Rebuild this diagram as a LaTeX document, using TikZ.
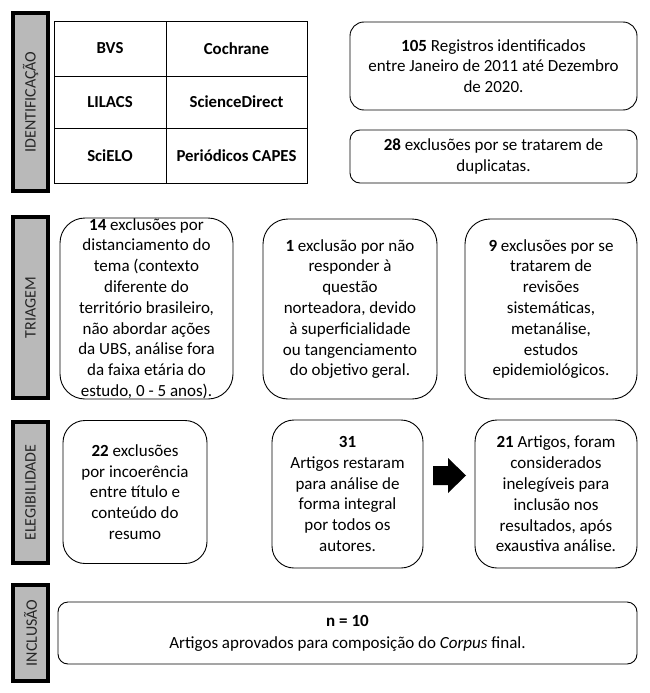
\documentclass[tikz,border=0pt]{standalone}
\usepackage{fontspec}
\setmainfont{Carlito}
\begin{document}
\begin{tikzpicture}[x=1pt,y=-1pt,
  rbox/.style={draw, line width=0.9pt, align=center, inner sep=0pt, font=\fontsize{17}{20.8}\selectfont},
  cell/.style={draw, line width=0.8pt, inner sep=0pt, font=\bfseries\fontsize{16.8}{18}\selectfont},
  bar/.style={draw, line width=4pt, fill=gray!55, rotate=90, inner sep=0pt, text=black!85, font=\fontsize{16}{18}\selectfont}]
\useasboundingbox (0,0) rectangle (649,693);
% side bars
\node[bar, minimum width=178pt, minimum height=35pt] (idbar) at (30.5,102) {IDENTIFICAÇÃO};
\node[bar, minimum width=181pt, minimum height=35pt] (tribar) at (30.5,307.5) {TRIAGEM};
\node[bar, minimum width=141pt, minimum height=35pt] (elebar) at (30.5,492.5) {ELEGIBILIDADE};
\node[bar, minimum width=96pt, minimum height=35pt] (incbar) at (30.5,633) {INCLUSÃO};
% table
\node[cell, minimum width=112pt, minimum height=55pt] (bvs) at (110,48.5) {BVS};
\node[cell, minimum width=141pt, minimum height=55pt] (coch) at (236.5,48.5) {Cochrane};
\node[cell, minimum width=112pt, minimum height=52pt] (lil) at (110,102) {LILACS};
\node[cell, minimum width=141pt, minimum height=52pt] (sd) at (236.5,102) {ScienceDirect};
\node[cell, minimum width=112pt, minimum height=55pt] (sci) at (110,155.5) {SciELO};
\node[cell, minimum width=141pt, minimum height=55pt] (cap) at (236.5,155.5) {Periódicos CAPES};
% identification boxes
\node[rbox, rounded corners=14pt, minimum width=287pt, minimum height=88pt] (reg) at (493.5,66)
  {\textbf{105} Registros identificados\\ entre Janeiro de 2011 até Dezembro\\ de 2020.};
\node[rbox, rounded corners=10pt, minimum width=287pt, minimum height=53pt] (dup) at (493.5,156.5)
  {\textbf{28} exclusões por se tratarem de\\ duplicatas.};
% triagem
\node[rbox, rounded corners=25pt, minimum width=173pt, minimum height=181pt] (t1) at (146.5,308.5)
  {\textbf{14} exclusões por\\ distanciamento do\\ tema (contexto\\ diferente do\\ território brasileiro,\\ não abordar ações\\ da UBS, análise fora\\ da faixa etária do\\ estudo, 0 - 5 anos).};
\node[rbox, rounded corners=25pt, minimum width=174pt, minimum height=180pt] (t2) at (350,309)
  {\textbf{1} exclusão por não\\ responder à\\ questão\\ norteadora, devido\\ à superficialidade\\ ou tangenciamento\\ do objetivo geral.};
\node[rbox, rounded corners=25pt, minimum width=172pt, minimum height=180pt] (t3) at (551,309)
  {\textbf{9} exclusões por se\\ tratarem de\\ revisões\\ sistemáticas,\\ metanálise,\\ estudos\\ epidemiológicos.};
% elegibilidade
\node[rbox, rounded corners=22pt, minimum width=144pt, minimum height=143pt] (e1) at (135,492)
  {\textbf{22} exclusões\\ por incoerência\\ entre título e\\ conteúdo do\\ resumo};
\node[rbox, rounded corners=22pt, minimum width=151pt, minimum height=148pt] (e2) at (347.5,494)
  {\textbf{31}\\ Artigos restaram\\ para análise de\\ forma integral\\ por todos os\\ autores.};
\node[rbox, rounded corners=22pt, minimum width=162pt, minimum height=148pt] (e3) at (556,494)
  {\textbf{21} Artigos, foram\\ considerados\\ inelegíveis para\\ inclusão nos\\ resultados, após\\ exaustiva análise.};
\fill (433,466) -- (448,466) -- (448,458) -- (466,475.5) -- (448,493) -- (448,485) -- (433,485) -- cycle;
% inclusao
\node[rbox, rounded corners=10pt, minimum width=579pt, minimum height=62pt, font=\fontsize{17}{22}\selectfont] (inc) at (347.5,633)
  {\textbf{n = 10}\\ Artigos aprovados para composição do \textit{Corpus} final.};
\end{tikzpicture}
\end{document}
